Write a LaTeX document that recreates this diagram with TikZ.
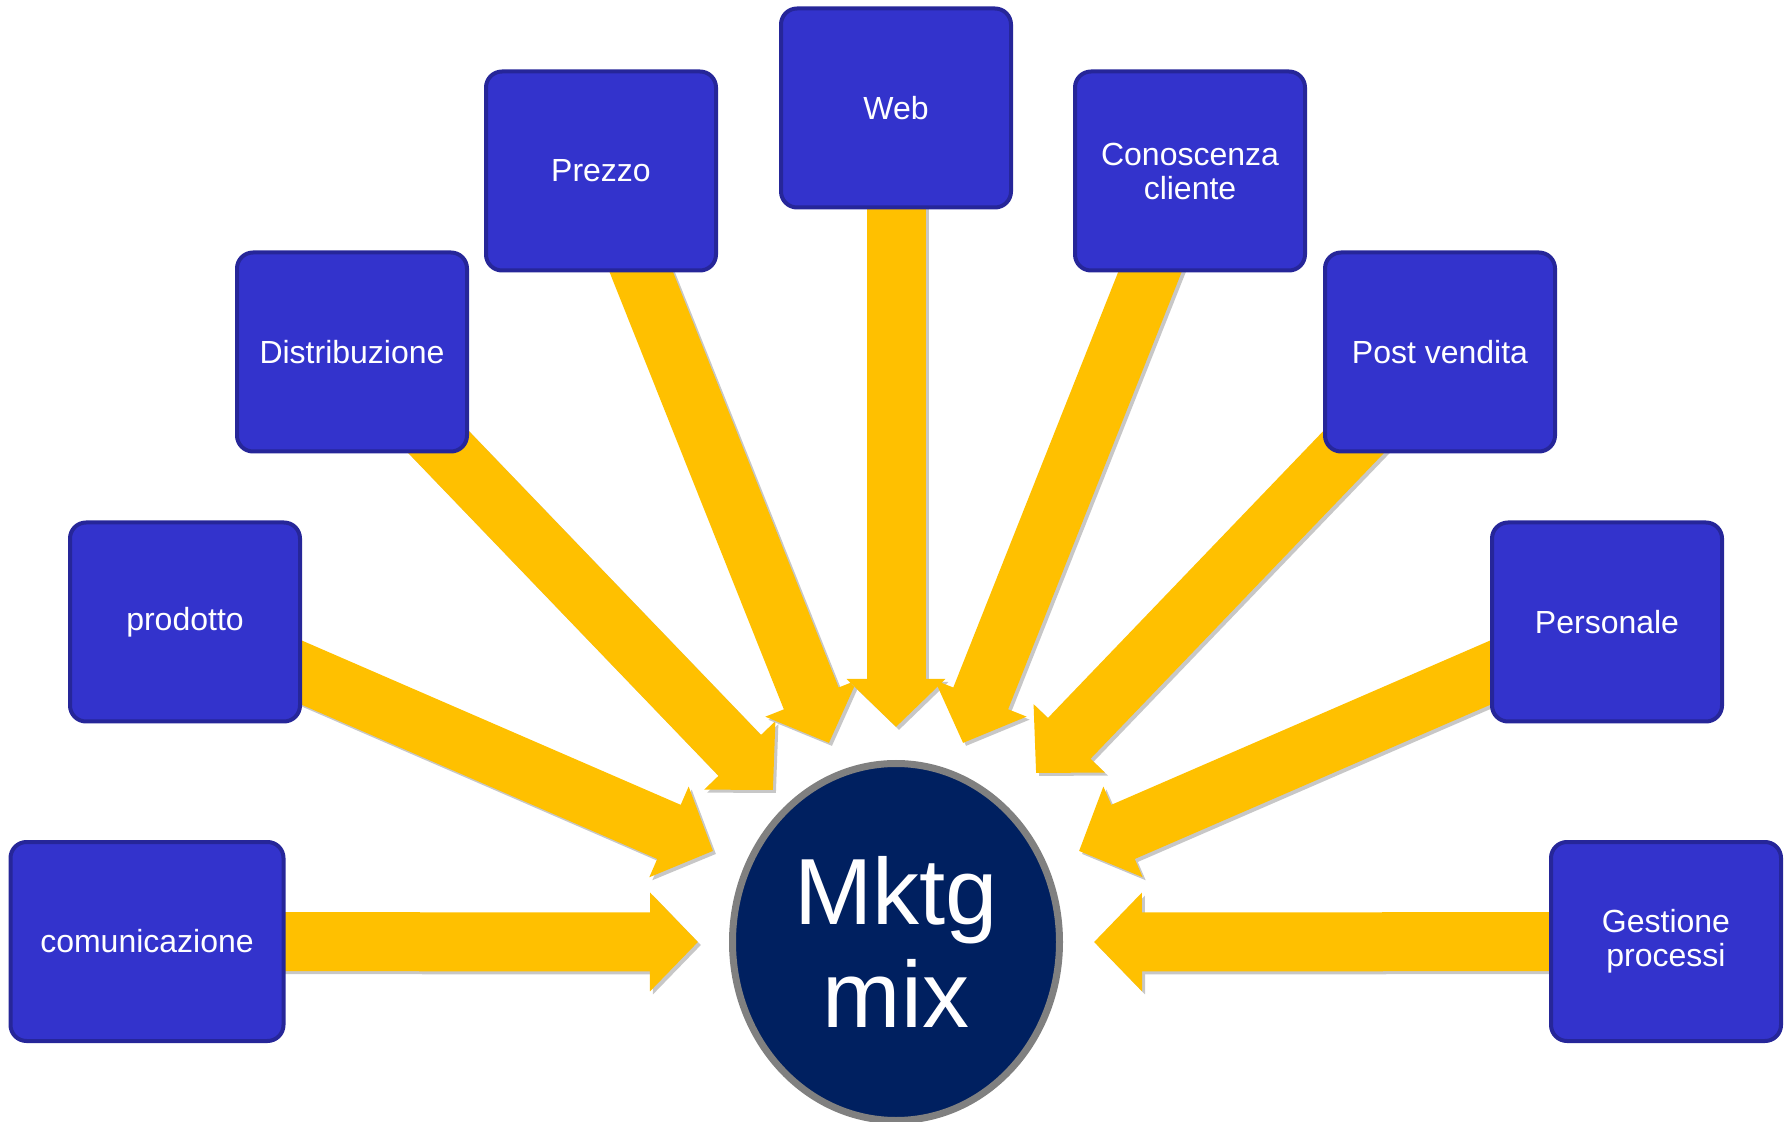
\documentclass[tikz,border=0pt]{standalone}
\usepackage{fontspec}
\setmainfont{Liberation Sans}
\usepackage{tikz}
\usetikzlibrary{arrows.meta,shapes.geometric,backgrounds}

\definecolor{bluBox}{RGB}{51,51,204}
\definecolor{bordoBox}{RGB}{38,38,153}
\definecolor{giallo}{RGB}{255,192,0}
\definecolor{bluMix}{RGB}{0,32,96}
\definecolor{grigioMix}{RGB}{128,128,128}

\begin{document}
\begin{tikzpicture}[x=0.5pt,y=-0.5pt,
  voce/.style={rectangle,draw=bordoBox,fill=bluBox,line width=2pt,rounded corners=8pt,
    minimum width=115pt,minimum height=99.5pt,inner sep=2pt,align=center,text=white,
    font=\fontsize{16}{17}\selectfont},
  freccia/.style={draw=giallo,line width=29.5pt,-{Triangle[width=48pt,length=24pt]}},
  ombra/.style={draw=black!22,transform canvas={shift={(1.5pt,-1.5pt)}}},
  centro/.style={ellipse,draw=grigioMix,fill=bluMix,line width=3.5pt,inner sep=0pt,
    minimum width=163.5pt,minimum height=178.5pt,align=center,text=white,
    font=\fontsize{47}{51.5}\selectfont}]
\useasboundingbox (0,0) rectangle (1789,1122);
% riquadri
\node[voce,minimum width=136.5pt] (comunicazione) at (147,941.5) {comunicazione};
\foreach \nome/\x/\y/\testo in %
{prodotto/185/622/prodotto, distribuzione/352/352/Distribuzione, prezzo/601/171/Prezzo,
 web/896/108/Web, conoscenza/1190/171/{Conoscenza\\cliente}, postvendita/1440/352/Post vendita,
 personale/1607/622/Personale, gestione/1666/941.5/{Gestione\\processi}} {
   \node[voce] (\nome) at (\x,\y) {\testo};
}
\node[centro] (mix) at (896,942) {Mktg\\mix};
% frecce verso il centro
\begin{scope}[on background layer]
\foreach \nome/\x/\y in %
{comunicazione/698/942, prodotto/713/851, distribuzione/773/790, prezzo/829/743,
 web/896/727, conoscenza/963/743, postvendita/1036/773, personale/1079/851, gestione/1094/942} {
   \coordinate (p-\nome) at (\x,\y);
   \draw[freccia,ombra] (\nome.center) -- (p-\nome);
   \draw[freccia] (\nome.center) -- (p-\nome);
}
\end{scope}
\end{tikzpicture}
\end{document}
